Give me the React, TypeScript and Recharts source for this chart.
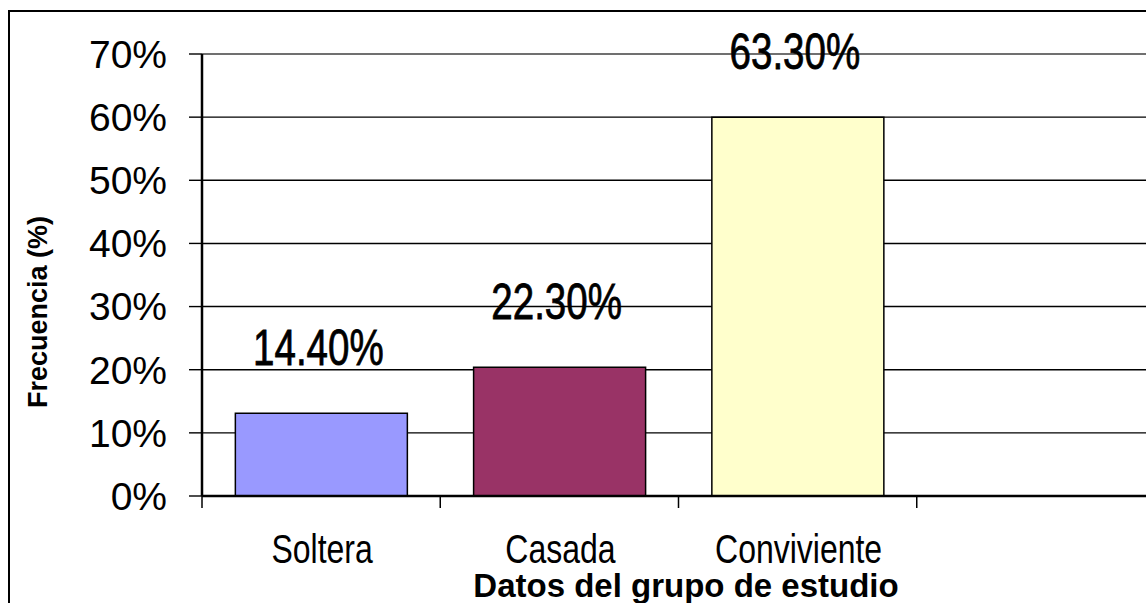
import React from 'react';
import { Bar, BarChart, CartesianGrid, Cell, Label, LabelList, ReferenceLine, XAxis, YAxis } from 'recharts';

const categories = ['Soltera', 'Casada', 'Conviviente', ''];
const barValues = [13.1, 20.4, 60, null];
const valueLabels = ['14.40%', '22.30%', '63.30%', ''];
const barColors = ['#9999FF', '#993366', '#FFFFCC', '#FFFFFF'];
const yTicks = [0, 10, 20, 30, 40, 50, 60, 70];

const data = categories.map((name, i) => ({ name, value: barValues[i], label: valueLabels[i] }));

// no Arial Narrow here, so squeeze Liberation Sans horizontally
const SANS = "'Liberation Sans', Arial, sans-serif";
const BAND = 953 / categories.length;

function NarrowText({ x, y, size, squeeze, weight = 0, children }: any) {
  return (
    <text
      transform={`translate(${x},${y}) scale(${squeeze},1)`}
      textAnchor="middle"
      fontFamily={SANS}
      fontSize={size}
      fill="#000"
      stroke={weight ? '#000' : 'none'}
      strokeWidth={weight}
    >
      {children}
    </text>
  );
}

function CategoryTick(props: any) {
  const { x, y, payload } = props;
  const left = x - BAND / 2;
  return (
    <g>
      <line x1={left} x2={left} y1={y - 12} y2={y} stroke="#000" strokeWidth={1.5} />
      <NarrowText x={x + 1} y={y + 55} size={41} squeeze={0.78}>
        {payload.value}
      </NarrowText>
    </g>
  );
}

function ValueLabel(props: any) {
  const { x, y, width, value } = props;
  if (!value) return null;
  return (
    <NarrowText x={x + width / 2 - 3} y={y - 48} size={50} squeeze={0.77} weight={0.8}>
      {value}
    </NarrowText>
  );
}

export default function App() {
  return (
    <div style={{ position: 'absolute', left: 0, top: 0, width: 1146, height: 603, overflow: 'hidden', background: '#fff' }}>
      <div style={{ position: 'absolute', left: 8, top: 10, width: 2000, height: 2000, border: '2px solid #000' }} />
      <div style={{ position: 'absolute', left: 0, top: 0 }}>
        <BarChart width={1160} height={603} data={data} margin={{ top: 54, right: 5, bottom: 0, left: 0 }} barCategoryGap="14%">
          <CartesianGrid vertical={false} stroke="#000" strokeWidth={1.4} />
          <ReferenceLine y={70} stroke="#808080" strokeWidth={1.5} />
          <XAxis
            dataKey="name"
            height={107}
            interval={0}
            tickLine={false}
            tickSize={12}
            tickMargin={0}
            axisLine={{ stroke: '#000', strokeWidth: 2.5 }}
            tick={<CategoryTick />}
          >
            <Label
              content={() => (
                <text x={686} y={597} textAnchor="middle" fontFamily={SANS} fontWeight="bold" fontSize={33} fill="#000">
                  Datos del grupo de estudio
                </text>
              )}
            />
          </XAxis>
          <YAxis
            width={202}
            domain={[0, 70]}
            ticks={yTicks}
            interval={0}
            tickFormatter={(v) => `${v}%`}
            tickSize={13}
            tickMargin={22}
            tickLine={{ stroke: '#000', strokeWidth: 1.4 }}
            axisLine={{ stroke: '#000', strokeWidth: 2.5 }}
            tick={{ fill: '#000', fontFamily: SANS, fontSize: 39 }}
          >
            <Label
              content={() => (
                <text x={38} y={312} transform="rotate(-90 38 312)" textAnchor="middle" dominantBaseline="central" fontFamily={SANS} fontWeight="bold" fontSize={27} fill="#000">
                  Frecuencia (%)
                </text>
              )}
            />
          </YAxis>
          <Bar dataKey="value" stroke="#000" strokeWidth={1.5} isAnimationActive={false}>
            {data.map((d, i) => (
              <Cell key={i} fill={barColors[i]} />
            ))}
            <LabelList dataKey="label" content={<ValueLabel />} />
          </Bar>
        </BarChart>
      </div>
    </div>
  );
}
